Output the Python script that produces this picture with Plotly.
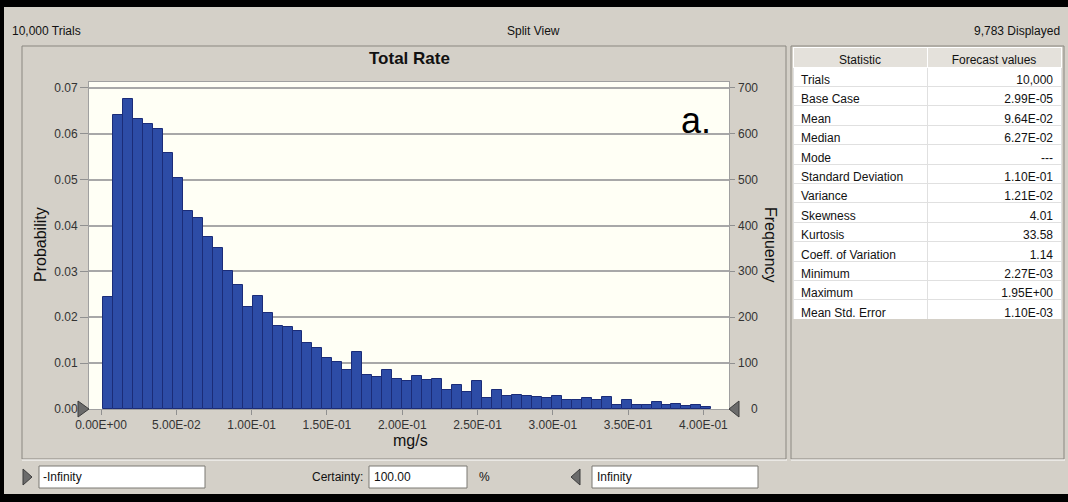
import plotly.graph_objects as go

trials = 10000
frequency = [245, 641, 677, 633, 621, 611, 558, 504, 432, 417,
             375, 350, 302, 270, 223, 247, 210, 181, 178, 171,
             143, 134, 111, 103, 84, 124, 75, 70, 86, 66,
             61, 71, 64, 66, 41, 52, 36, 62, 24, 41,
             28, 31, 28, 26, 24, 28, 20, 20, 23, 20,
             26, 9, 20, 9, 9, 15, 9, 12, 7, 9, 4]
bin_start = 0.0013
bin_width = 0.006623

x_ticks = [0.0, 0.05, 0.10, 0.15, 0.20, 0.25, 0.30, 0.35, 0.40]
x_tick_text = ["0.00E+00", "5.00E-02", "1.00E-01", "1.50E-01", "2.00E-01",
               "2.50E-01", "3.00E-01", "3.50E-01", "4.00E-01"]
prob_ticks = [0.0, 0.01, 0.02, 0.03, 0.04, 0.05, 0.06, 0.07]
prob_tick_text = ["0.00", "0.01", "0.02", "0.03", "0.04", "0.05", "0.06", "0.07"]
freq_ticks = [0, 100, 200, 300, 400, 500, 600, 700]

stat_names = ["Trials", "Base Case", "Mean", "Median", "Mode", "Standard Deviation",
              "Variance", "Skewness", "Kurtosis", "Coeff. of Variation", "Minimum",
              "Maximum", "Mean Std. Error"]
stat_values = ["10,000", "2.99E-05", "9.64E-02", "6.27E-02", "---", "1.10E-01",
               "1.21E-02", "4.01", "33.58", "1.14", "2.27E-03", "1.95E+00", "1.10E-03"]

W, H = 1068, 502
FONT = "Liberation Sans, Arial, sans-serif"
BG = "#d4d0c8"


def px(x):
    return x / W


def py(y):
    return 1 - y / H


probability = [f / trials for f in frequency]

fig = go.Figure()

fig.add_trace(go.Bar(
    x0=bin_start + bin_width / 2, dx=bin_width, y=probability, width=bin_width,
    marker=dict(color="#2d4ca6", line=dict(color="#1b2c78", width=1)),
    showlegend=False, hoverinfo="skip",
))

fig.add_trace(go.Table(
    domain=dict(x=[px(793), px(1061)], y=[py(319), py(47)]),
    columnwidth=[134, 134],
    header=dict(values=["Statistic", "Forecast values"], height=20,
                fill_color="#e4e1db", line_color="#ffffff",
                font=dict(family=FONT, size=12, color="#111111"), align="center"),
    cells=dict(values=[stat_names, stat_values], height=19.4,
               fill_color="#ffffff", line_color="#e0e0e0",
               font=dict(family=FONT, size=12, color="#111111"), align=["left", "right"]),
))

shapes = []
# black frame of the screenshot
shapes.append(dict(type="rect", xref="paper", yref="paper", x0=0, x1=1, y0=py(7), y1=1,
                   fillcolor="black", line=dict(width=0), layer="below"))
shapes.append(dict(type="rect", xref="paper", yref="paper", x0=0, x1=px(4), y0=0, y1=1,
                   fillcolor="black", line=dict(width=0), layer="below"))
shapes.append(dict(type="rect", xref="paper", yref="paper", x0=0, x1=1, y0=0, y1=py(494),
                   fillcolor="black", line=dict(width=0), layer="below"))
# chart and table panels
for x0, x1 in [(22, 786), (791, 1064)]:
    shapes.append(dict(type="rect", xref="paper", yref="paper", x0=px(x0), x1=px(x1),
                       y0=py(459), y1=py(46), line=dict(color="#8a8780", width=1), layer="below"))
    shapes.append(dict(type="line", xref="paper", yref="paper", x0=px(x0), x1=px(x1 + 1),
                       y0=py(460), y1=py(460), line=dict(color="#ffffff", width=1), layer="below"))
# text boxes at the bottom
for x0, x1 in [(39, 205), (369, 467), (592, 758)]:
    shapes.append(dict(type="rect", xref="paper", yref="paper", x0=px(x0), x1=px(x1),
                       y0=py(488), y1=py(466), fillcolor="#ffffff",
                       line=dict(color="#7a7873", width=1), layer="below"))


def tri(x0, x1, yc, h, right):
    if right:
        path = f"M {px(x0)} {py(yc - h)} L {px(x1)} {py(yc)} L {px(x0)} {py(yc + h)} Z"
    else:
        path = f"M {px(x1)} {py(yc - h)} L {px(x0)} {py(yc)} L {px(x1)} {py(yc + h)} Z"
    return dict(type="path", xref="paper", yref="paper", path=path,
                fillcolor="#6b6b6b", line=dict(color="#3c3c3c", width=1), layer="above")


shapes += [tri(78, 89, 409, 8, True), tri(729, 739, 409, 8, False),
           tri(23, 32, 477, 8, True), tri(571, 580, 477, 8, False)]

ann = []


def label(text, x, y, size=12, anchor="center", **kw):
    ann.append(dict(text=text, x=px(x), y=py(y), xref="paper", yref="paper",
                    xanchor=anchor, yanchor="middle", showarrow=False,
                    font=dict(family=FONT, size=size, color=kw.pop("color", "#111111")), **kw))


label("10,000 Trials", 10, 31, anchor="left")
label("Split View", 533, 31)
label("9,783 Displayed", 1062, 31, anchor="right")
label("<b>Total Rate</b>", 409, 58, size=17)
label("Probability", 40, 245, size=16, textangle=-90)
label("Frequency", 771, 245, size=16, textangle=90)
label("mg/s", 410, 440, size=16)
label("a.", 696, 120, size=36, color="#000000")
label("-Infinity", 41, 477, anchor="left")
label("Certainty:", 365, 477, anchor="right")
label("100.00", 372, 477, anchor="left")
label("%", 484, 477)
label("Infinity", 595, 477, anchor="left")

# right axis labels are right-aligned in the original
for v in freq_ticks:
    ann.append(dict(text=str(v), x=px(760), y=v, xref="paper", yref="y2",
                    xanchor="right", yanchor="middle", showarrow=False,
                    font=dict(family=FONT, size=12, color="#333333")))

plot_dom = [py(409), py(82)]
fig.update_layout(
    width=W, height=H, template="none",
    margin=dict(l=0, r=0, t=0, b=0),
    paper_bgcolor=BG, plot_bgcolor="#fffff5",
    bargap=0, showlegend=False,
    shapes=shapes, annotations=ann,
    xaxis=dict(domain=[px(89), px(729)], range=[-0.008, 0.417], anchor="y",
               tickvals=x_ticks, ticktext=x_tick_text, ticks="outside", ticklen=5,
               tickcolor="#909090", showgrid=False, zeroline=False,
               showline=True, mirror=True, linecolor="#a0a0a0", linewidth=1,
               tickfont=dict(family=FONT, size=12, color="#333333")),
    yaxis=dict(domain=plot_dom, range=[0, 0.0713],
               tickvals=prob_ticks, ticktext=prob_tick_text, ticks="outside", ticklen=8,
               tickcolor="#909090", showgrid=True, gridcolor="#a8a8a8", gridwidth=1.5,
               zeroline=False, showline=True, mirror=True, linecolor="#a0a0a0",
               tickfont=dict(family=FONT, size=12, color="#333333")),
    yaxis2=dict(domain=plot_dom, overlaying="y", side="right", anchor="x", range=[0, 713],
                tickvals=freq_ticks, showticklabels=False, ticks="outside", ticklen=5,
                tickcolor="#909090", showgrid=False, zeroline=False),
)

# the page body has a default 8px margin; remove it so the figure sits at 0,0
fig.write_html("out.html", config={"displayModeBar": False},
               post_script="document.body.style.margin='0';")
